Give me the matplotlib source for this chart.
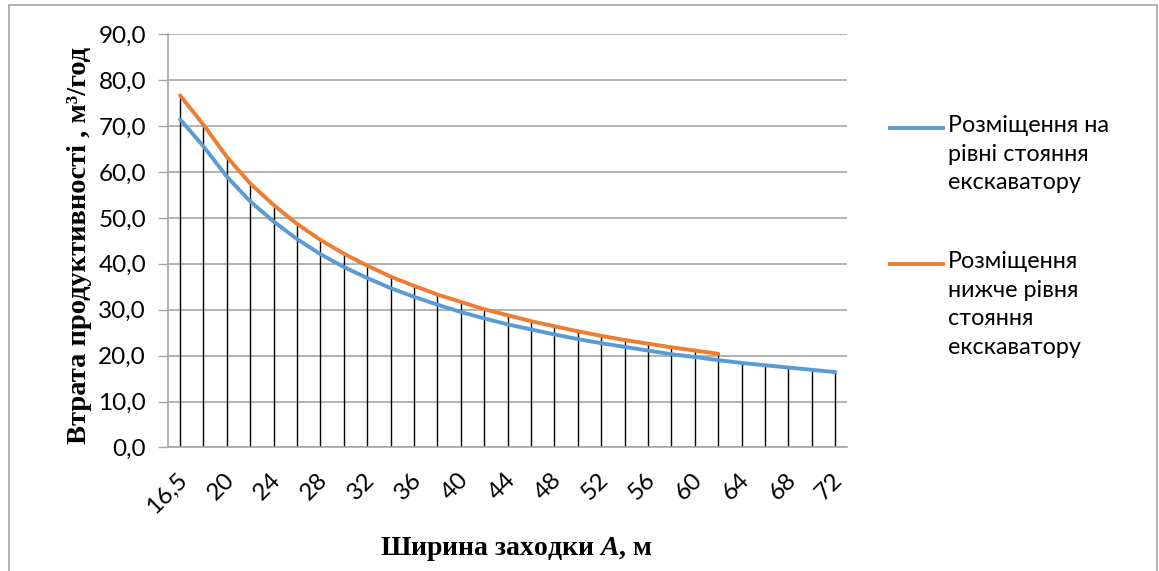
import matplotlib
matplotlib.use("Agg")
import matplotlib.pyplot as plt
from matplotlib.lines import Line2D
from matplotlib.patches import Rectangle
from matplotlib.ticker import FuncFormatter
from matplotlib.transforms import ScaledTranslation

# Bench width A, m
widths = [16.5, 18, 20, 22, 24, 26, 28, 30, 32, 34, 36, 38, 40, 42, 44,
          46, 48, 50, 52, 54, 56, 58, 60, 62, 64, 66, 68, 70, 72]

# Productivity loss, m3/h – placement on the excavator standing level
loss_level = [71.5, 65.6, 59.0, 53.6, 49.2, 45.4, 42.1, 39.3, 36.9, 34.7,
              32.8, 31.1, 29.5, 28.1, 26.8, 25.7, 24.6, 23.6, 22.7, 21.9,
              21.1, 20.3, 19.7, 19.0, 18.4, 17.9, 17.4, 16.9, 16.4]

# Productivity loss, m3/h – placement below the excavator standing level
loss_below = [76.7, 70.3, 63.3, 57.5, 52.8, 48.7, 45.2, 42.2, 39.6, 37.2,
              35.2, 33.3, 31.7, 30.1, 28.8, 27.5, 26.4, 25.3, 24.3, 23.4,
              22.6, 21.8, 21.1, 20.4]

label_level = "Розміщення на\nрівні стояння\nекскаватору"
label_below = "Розміщення\nнижче рівня\nстояння\nекскаватору"

BLUE = "#5B9BD5"
ORANGE = "#ED7D31"
GRID = "#A6A6A6"

SANS = ["Lato", "Roboto", "DejaVu Sans"]
SERIF = ["Liberation Serif", "DejaVu Serif"]
plt.rcParams["mathtext.fontset"] = "custom"
plt.rcParams["mathtext.it"] = "Liberation Serif:italic:bold"
plt.rcParams["mathtext.rm"] = "Liberation Serif:bold"

W, H = 1159, 571
fig = plt.figure(figsize=(W / 100, H / 100), dpi=100)

# outer chart frame
fig.add_artist(Rectangle((9 / W, -0.1), 1148 / W, 1.1 - 5 / H,
                         transform=fig.transFigure, fill=False,
                         edgecolor=GRID, linewidth=1.2))

left, right = 168.3 / W, 847 / W
top, bottom = 1 - 34.3 / H, 1 - 447.4 / H
ax = fig.add_axes([left, bottom, right - left, top - bottom])

idx = list(range(len(widths)))
idx_below = idx[:len(loss_below)]

# drop lines from the upper curve to the category axis
tops = [max(a, b) for a, b in zip(loss_level, loss_below)] + loss_level[len(loss_below):]
ax.vlines(idx, 0, tops, colors="black", linewidth=1.0, zorder=2)

ax.plot(idx, loss_level, color=BLUE, linewidth=2.8, solid_capstyle="round",
        solid_joinstyle="round", zorder=3)
ax.plot(idx_below, loss_below, color=ORANGE, linewidth=2.8, solid_capstyle="round",
        solid_joinstyle="round", zorder=4)

ax.set_xlim(-0.5, len(widths) - 0.5)
ax.set_ylim(0, 90)
ax.set_yticks(range(0, 91, 10))
ax.yaxis.set_major_formatter(FuncFormatter(lambda v, p: f"{v:.1f}".replace(".", ",")))
ax.grid(axis="y", color=GRID, linewidth=1.2, zorder=0)
ax.set_axisbelow(True)

tick_pos = idx[::2]
ax.set_xticks(tick_pos)
ax.set_xticklabels([f"{widths[i]:g}".replace(".", ",") for i in tick_pos],
                   rotation=45, ha="right", va="center", rotation_mode="anchor")
ax.tick_params(axis="x", length=0, pad=21, labelsize=17.5)
ax.tick_params(axis="y", length=7, width=1.0, color=GRID, pad=9, labelsize=17.5)
shift = ScaledTranslation(4 / 100, 0, fig.dpi_scale_trans)
for lab in ax.get_xticklabels():
    lab.set_transform(lab.get_transform() + shift)
for lab in ax.get_xticklabels() + ax.get_yticklabels():
    lab.set_family(SANS)

for s in ("top", "right"):
    ax.spines[s].set_visible(False)
for s in ("left", "bottom"):
    ax.spines[s].set_color(GRID)
    ax.spines[s].set_linewidth(1.2)

# axis titles
fig.text(80 / W, 1 - 245 / H, "Втрата продуктивності , м³/год", rotation=90,
         ha="center", va="center", family=SERIF, fontweight="bold", fontsize=20.5)
fig.text(516 / W, 1 - 549 / H, r"Ширина заходки $A$, м",
         ha="center", va="center", family=SERIF, fontweight="bold", fontsize=20)

# legend
for y_px, color, text in ((128, BLUE, label_level), (264, ORANGE, label_below)):
    yf = 1 - y_px / H
    fig.add_artist(Line2D([890 / W, 943 / W], [yf, yf], transform=fig.transFigure,
                          color=color, linewidth=2.8))
    fig.text(948 / W, 1 - (y_px - 13) / H, text, ha="left", va="top",
             family=SANS, fontsize=16.8, linespacing=1.45)

fig.savefig("out.png", dpi=100)
